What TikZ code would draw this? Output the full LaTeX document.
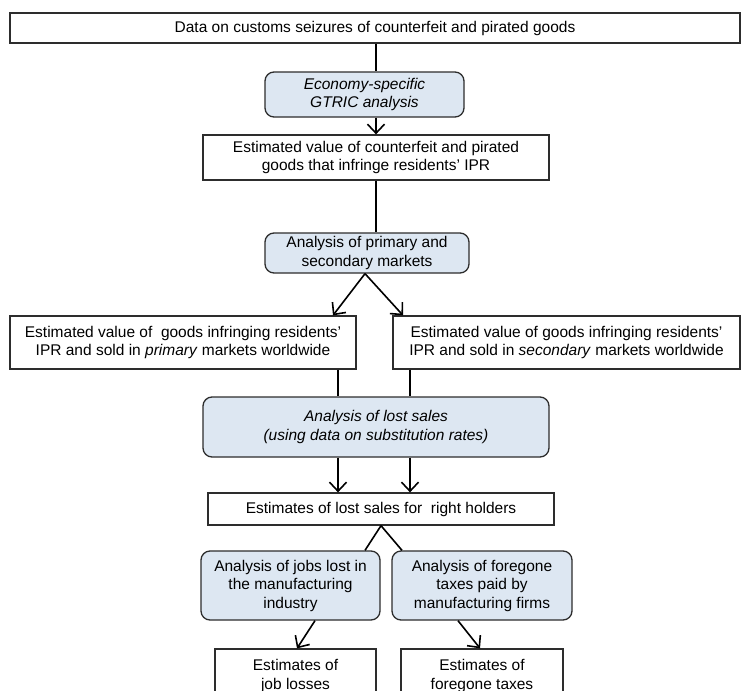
\documentclass[tikz,border=0pt]{standalone}
\usepackage{fontspec}
\setmainfont{Liberation Sans}
\usetikzlibrary{arrows.meta}
\definecolor{boxfill}{RGB}{221,231,242}
\definecolor{edge}{RGB}{45,45,45}
\begin{document}
\begin{tikzpicture}[x=1pt,y=-1pt,
  plain/.style={draw=edge, line width=1.3pt, fill=white, inner sep=0pt, align=center,
    font=\fontsize{15.5}{18.5}\selectfont},
  soft/.style={plain, fill=boxfill, rounded corners=9pt},
  link/.style={line width=1.6pt, draw=black},
  arr/.style={link, -{Straight Barb[length=9pt,width=17pt,line width=1.6pt]}}]
\useasboundingbox (0,0) rectangle (742,691);
\clip (0,0) rectangle (742,691);
\fill[white] (0,0) rectangle (742,691);
% column coordinates
\foreach \c in {297,315,333,338,365,376,381,402,403,410,458,480}
  {\coordinate (c\c) at (\c,0);}
% nodes
\node[plain, minimum width=730, minimum height=30] (top) at (375,28)
  {Data on customs seizures of counterfeit and pirated goods};
\node[soft, minimum width=199, minimum height=45, font=\fontsize{15.5}{18.5}\selectfont\itshape] (econ) at (364.5,94.5)
  {Economy-specific\\GTRIC analysis};
\node[plain, minimum width=346, minimum height=45] (est1) at (376,157.5)
  {Estimated value of counterfeit and pirated\\goods that infringe residents' IPR};
\node[soft, minimum width=204, minimum height=40] (prim) at (367,253)
  {Analysis of primary and\\secondary markets};
\node[plain, minimum width=346, minimum height=53] (left) at (183,342.5)
  {Estimated value of\ \ goods infringing residents'\\IPR and sold in \textit{primary} markets worldwide};
\node[plain, minimum width=347, minimum height=53] (right) at (566.5,342.5)
  {Estimated value of goods infringing residents'\\IPR and sold in \textit{secondary} markets worldwide};
\node[soft, minimum width=346, minimum height=60, font=\fontsize{15.5}{18.5}\selectfont\itshape] (lost) at (376,427)
  {Analysis of lost sales\\(using data on substitution rates)};
\node[plain, minimum width=346, minimum height=32] (estlost) at (381,509)
  {Estimates of lost sales for\ \ right holders};
\node[soft, minimum width=179, minimum height=69] (jobs) at (290.5,585.5)
  {Analysis of jobs lost in\\the manufacturing\\industry};
\node[soft, minimum width=180, minimum height=69] (taxes) at (482,585.5)
  {Analysis of foregone\\taxes paid by\\manufacturing firms};
\node[plain, minimum width=161, minimum height=54] (jl) at (295.5,676)
  {Estimates of\\job losses};
\node[plain, minimum width=162, minimum height=54] (tx) at (482,676)
  {Estimates of\\foregone taxes};
% connectors
\draw[link] (top.south -| c376) -- (econ.north -| c376);
\draw[arr] (econ.south -| c376) -- (est1.north -| c376);
\draw[link] (est1.south -| c376) -- (prim.north -| c376);
\draw[arr] (prim.south -| c365) -- (left.north -| c333);
\draw[arr] (prim.south -| c365) -- (right.north -| c403);
\draw[link] (left.south -| c338) -- (lost.north -| c338);
\draw[link] (right.south -| c410) -- (lost.north -| c410);
\draw[arr] (lost.south -| c338) -- (estlost.north -| c338);
\draw[arr] (lost.south -| c410) -- (estlost.north -| c410);
\draw[link] (estlost.south -| c381) -- (jobs.north -| c365);
\draw[link] (estlost.south -| c381) -- (taxes.north -| c402);
\draw[arr] (jobs.south -| c315) -- (jl.north -| c297);
\draw[arr] (taxes.south -| c458) -- (tx.north -| c480);
\end{tikzpicture}
\end{document}
